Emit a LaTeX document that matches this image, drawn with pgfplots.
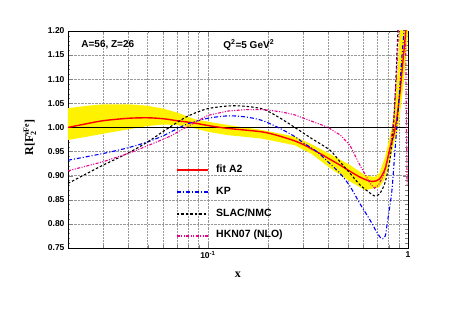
\documentclass[border=0pt]{standalone}
\usepackage{amsmath}
\usepackage{fontspec}
\setmainfont{Liberation Sans}
\newfontfamily\tnr{Liberation Serif}
\usepackage{pgfplots}
\pgfplotsset{compat=1.18}
\usetikzlibrary{calc}
\begin{document}
\begin{tikzpicture}
\begin{axis}[name=ax, scale only axis, width=340pt, height=217pt,
  xmode=log, xmin=0.02, xmax=1, ymin=0.75, ymax=1.2,
  xtick={0.1,1}, xticklabels={10\textsuperscript{-1},1},
  minor xtick={0.02,0.03,0.04,0.05,0.06,0.07,0.08,0.09,0.2,0.3,0.4,0.5,0.6,0.7,0.8,0.9},
  ytick={0.75,0.8,...,1.21}, minor y tick num=4,
  xmajorgrids, xminorgrids, ymajorgrids,
  grid style={densely dotted, gray!80, line width=0.5pt},
  minor grid style={densely dotted, gray!80, line width=0.5pt},
  tick align=inside, major tick length=5pt, minor tick length=2.5pt,
  axis line style={line width=0.8pt},
  xticklabel style={font=\bfseries\fontsize{8.5}{10}\selectfont},
  yticklabel style={font=\bfseries\fontsize{8.5}{10}\selectfont, /pgf/number format/.cd, fixed, fixed zerofill, precision=2, assume math mode=true},
  xlabel={\tnr\bfseries x},
  xlabel style={font=\fontsize{12}{14}\selectfont, at={(axis description cs:0.5,-0.124)}, anchor=center},
  ylabel={\tnr\bfseries R[F$_{\text{\tnr\bfseries 2}}^{\text{\tnr\bfseries νFe}}$]},
  ylabel style={font=\fontsize{12}{14}\selectfont, at={(axis description cs:-0.112,0.51)}, anchor=center},
]
% uncertainty band
\addplot[fill=yellow, draw=none, forget plot] coordinates {
(0.02,1.040) (0.025,1.045) (0.03,1.048) (0.04,1.048) (0.05,1.045) (0.06,1.039) (0.07,1.031) (0.086,1.017) (0.1,1.012) (0.126,1.005) (0.185,0.995) (0.272,0.981) (0.33,0.965) (0.407,0.945) (0.513,0.922) (0.61,0.901) (0.68,0.897) (0.72,0.905) (0.77,0.94) (0.8,0.97) (0.83,1.0) (0.86,1.05) (0.89,1.12) (0.91,1.2) (0.93,1.28) (1.0,1.28)
(1.0,1.2) (0.95,1.09) (0.895,1.0) (0.85,0.965) (0.81,0.93) (0.77,0.895) (0.72,0.876) (0.68,0.874) (0.61,0.870) (0.513,0.888) (0.407,0.916) (0.33,0.945) (0.272,0.963) (0.185,0.977) (0.126,0.984) (0.1,0.991) (0.086,0.998) (0.07,1.005) (0.06,1.006) (0.05,1.003) (0.04,0.996) (0.03,0.987) (0.025,0.981) (0.02,0.974)
} -- cycle;
\addplot[black, line width=0.8pt, forget plot] coordinates {(0.02,1) (1,1)};
% fit A2
\addplot[red, line width=1.4pt, smooth, tension=0.5] coordinates {
(0.02,1.000) (0.025,1.008) (0.03,1.014) (0.04,1.019) (0.05,1.020) (0.06,1.018) (0.07,1.014) (0.086,1.009) (0.1,1.004) (0.126,0.998) (0.185,0.991) (0.224,0.983) (0.272,0.972) (0.305,0.963) (0.363,0.946) (0.407,0.934) (0.457,0.922) (0.513,0.909) (0.575,0.897) (0.63,0.890) (0.67,0.888) (0.72,0.893) (0.77,0.915) (0.81,0.955) (0.85,0.985) (0.88,1.02) (0.91,1.07) (0.94,1.13) (0.97,1.19) (1.0,1.25)
};
% KP
\addplot[blue, line width=1.1pt, dash pattern=on 4pt off 2pt on 1pt off 2pt, smooth, tension=0.5] coordinates {
(0.02,0.932) (0.03,0.946) (0.04,0.958) (0.05,0.970) (0.06,0.983) (0.07,0.997) (0.08,1.008) (0.1,1.019) (0.126,1.024) (0.153,1.022) (0.185,1.015) (0.224,1.000) (0.272,0.981) (0.3,0.968) (0.35,0.950) (0.407,0.925) (0.457,0.905) (0.513,0.878) (0.575,0.842) (0.646,0.808) (0.7,0.782) (0.74,0.769) (0.77,0.775) (0.79,0.805) (0.83,0.867) (0.86,0.95) (0.895,1.04) (0.93,1.14) (0.955,1.2) (0.97,1.25)
};
% SLAC/NMC
\addplot[black, line width=1.1pt, dash pattern=on 2.5pt off 2pt, smooth, tension=0.5] coordinates {
(0.02,0.884) (0.025,0.905) (0.03,0.922) (0.04,0.947) (0.05,0.970) (0.06,0.992) (0.07,1.010) (0.08,1.024) (0.1,1.039) (0.136,1.045) (0.185,1.039) (0.224,1.022) (0.272,1.000) (0.33,0.977) (0.407,0.953) (0.457,0.929) (0.513,0.905) (0.575,0.881) (0.646,0.864) (0.68,0.858) (0.72,0.862) (0.767,0.885) (0.81,0.93) (0.845,1.0) (0.87,1.1) (0.89,1.2) (0.9,1.25)
};
% HKN07
\addplot[magenta, line width=1.1pt, dash pattern=on 3pt off 1.5pt on 1pt off 1.5pt on 1pt off 1.5pt] coordinates {
(0.02,0.910) (0.03,0.929) (0.04,0.946) (0.05,0.962) (0.065,0.982) (0.08,1.003) (0.1,1.025) (0.126,1.034) (0.155,1.037) (0.185,1.037) (0.2,1.036) (0.235,1.032) (0.272,1.026) (0.33,1.013) (0.4,1.0) (0.43,0.991) (0.457,0.985) (0.513,0.963) (0.575,0.922) (0.646,0.884) (0.68,0.874) (0.71,0.880) (0.75,0.898) (0.81,0.95) (0.85,1.02) (0.88,1.12) (0.9,1.22) (0.93,1.35) (0.96,1.35) (0.97,1.25) (0.98,1.05) (0.99,0.88)
};
% legend
\draw[red, line width=1.4pt] (rel axis cs:0.3206,0.3594) -- (rel axis cs:0.4118,0.3594);
\draw[blue, line width=1.1pt, dash pattern=on 4pt off 2pt on 1pt off 2pt] (rel axis cs:0.3206,0.2581) -- (rel axis cs:0.4118,0.2581);
\draw[black, line width=1.1pt, dash pattern=on 2.5pt off 2pt] (rel axis cs:0.3206,0.1567) -- (rel axis cs:0.4118,0.1567);
\draw[magenta, line width=1.1pt, dash pattern=on 3pt off 1.5pt on 1pt off 1.5pt on 1pt off 1.5pt] (rel axis cs:0.3206,0.0553) -- (rel axis cs:0.4118,0.0553);
\begin{scope}[every node/.style={anchor=west, inner sep=0pt, font=\bfseries\fontsize{10.5}{12}\selectfont}]
\node at (rel axis cs:0.4353,0.3640) {fit A2};
\node at (rel axis cs:0.4353,0.2627) {KP};
\node at (rel axis cs:0.4353,0.1613) {SLAC/NMC};
\node at (rel axis cs:0.4353,0.0599) {HKN07 (NLO)};
\end{scope}
\node[anchor=west, font=\bfseries\fontsize{10}{12}\selectfont] at (axis cs:0.0224,1.171) {A=56, Z=26};
\node[anchor=west, font=\bfseries\fontsize{10}{12}\selectfont] at (axis cs:0.1148,1.171) {Q\textsuperscript{2}=5 GeV\textsuperscript{2}};
\end{axis}
\pgfresetboundingbox
\path[use as bounding box] ($(ax.south west)+(-68pt,-63pt)$) rectangle ($(ax.north east)+(46pt,31pt)$);
\end{tikzpicture}
\end{document}
